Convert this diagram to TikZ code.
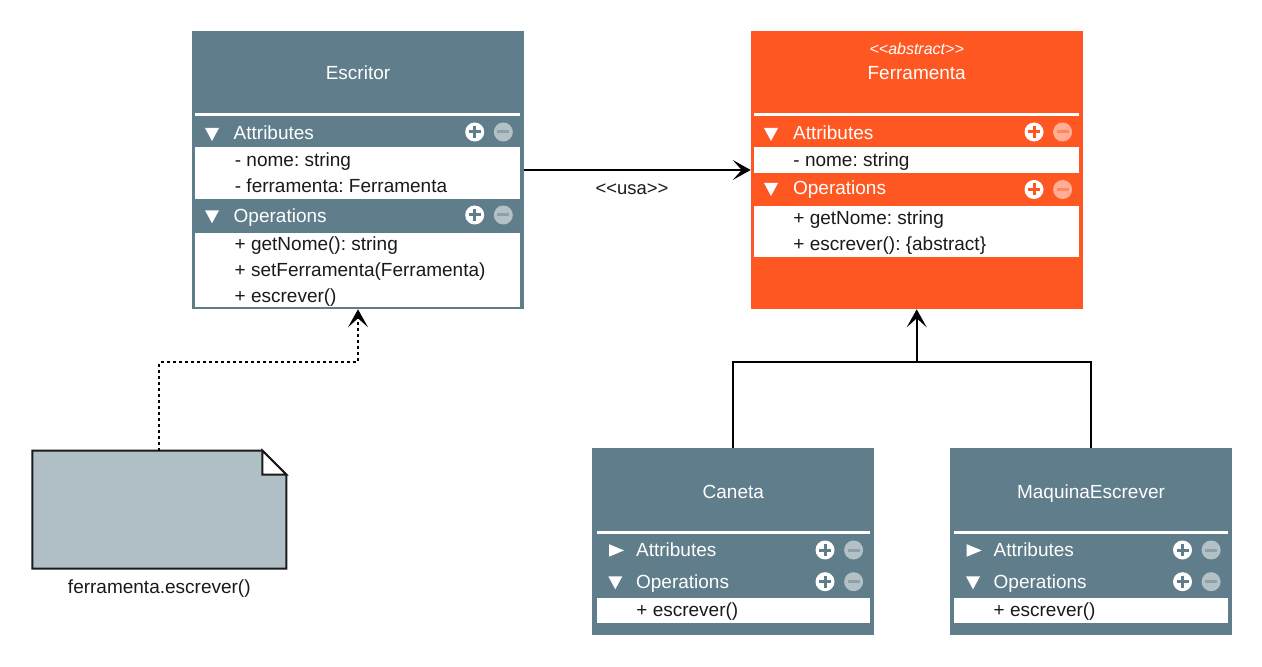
\documentclass[tikz,border=0pt]{standalone}
\usepackage{fontspec}
\setmainfont{Liberation Sans}[Ligatures=TeXOff]
\usetikzlibrary{arrows.meta}
\definecolor{slate}{HTML}{607D8B}
\definecolor{deep}{HTML}{FF5722}
\definecolor{notefill}{HTML}{B0BEC5}
\definecolor{ink}{HTML}{1A1A1A}
\frenchspacing
% plus / minus icons: x, y, base colour
\newcommand{\pmicons}[3]{%
  \fill[white] (#1,#2) circle[radius=4.75pt];
  \draw[#3, line width=1.5pt] (#1-6,#2) -- (#1+6,#2) (#1,#2-6) -- (#1,#2+6);
  \fill[white!52!#3] (#1+28.6,#2) circle[radius=4.75pt];
  \draw[#3!72!white, line width=1.5pt] (#1+22.6,#2) -- (#1+34.6,#2);
}
\newcommand{\tridown}[2]{\fill[white] (#1-7,#2-12) -- (#1+7,#2-12) -- (#1,#2+1) -- cycle;}
\newcommand{\triright}[2]{\fill[white] (#1-7.5,#2-12.5) -- (#1-7.5,#2) -- (#1+7.5,#2-6.25) -- cycle;}
\begin{document}
\begin{tikzpicture}[x=0.5pt,y=-0.5pt,
  bigbox/.style={draw=#1, fill=#1, line width=1pt, inner sep=0pt, minimum width=165pt, minimum height=138.3pt},
  smallbox/.style={draw=#1, fill=#1, line width=1pt, inner sep=0pt, minimum width=140pt, minimum height=92.5pt},
  title/.style={anchor=base, inner sep=0pt, text=white, font=\fontsize{9.5}{11}\selectfont},
  hdr/.style={anchor=base west, inner sep=0pt, text=white, font=\fontsize{9.5}{11}\selectfont},
  itm/.style={anchor=base west, inner sep=0pt, text=ink, font=\fontsize{9.5}{11}\selectfont},
  lbl/.style={anchor=base, inner sep=0pt, text=ink, font=\fontsize{9.5}{11}\selectfont},
  sep/.style={white, line width=1.5pt},
  plain/.style={draw=black, line width=1pt},
  conn/.style={plain, -{Stealth[length=9pt,width=10pt,inset=4.5pt]}},
  dotconn/.style={conn, dash pattern=on 1.5pt off 1.5pt}
]
\fill[white] (0,0) rectangle (1262,667);
\useasboundingbox (0,0) rectangle (1262,667);

% ---------- Escritor ----------
\node[bigbox=slate] (esc) at (358,170) {};
\node[title] (esc-t) at (358,79.3) {Escritor};
\draw[sep] (195,114.3) -- (520,114.3);
\tridown{212}{140}
\node[hdr] (esc-ah) at (233.3,140) {Attributes};
\pmicons{474.7}{132}{slate}
\fill[white] (195,147.5) rectangle (520,199.3);
\node[itm] (esc-a1) at (234.5,166.5) {- nome: string};
\node[itm] (esc-a2) at (234.5,192.5) {- ferramenta: Ferramenta};
\tridown{212}{222.3}
\node[hdr] (esc-oh) at (233.3,222.3) {Operations};
\pmicons{474.7}{215}{slate}
\fill[white] (195,232.7) rectangle (520,306.7);
\node[itm] (esc-o1) at (234.3,250.7) {+ getNome(): string};
\node[itm] (esc-o2) at (234.3,276.7) {+ setFerramenta(Ferramenta)};
\node[itm] (esc-o3) at (234.3,302.5) {+ escrever()};

% ---------- Ferramenta ----------
\node[bigbox=deep] (fer) at (916.7,170) {};
\node[title, font=\fontsize{8}{10}\selectfont\itshape] (fer-s) at (916.7,55) {<<abstract>>};
\node[title] (fer-t) at (916.7,79.3) {Ferramenta};
\draw[sep] (754,114.3) -- (1079,114.3);
\tridown{771}{140}
\node[hdr] (fer-ah) at (792.7,140) {Attributes};
\pmicons{1034}{132}{deep}
\fill[white] (754,147.3) rectangle (1079,173.3);
\node[itm] (fer-a1) at (793,166.5) {- nome: string};
\tridown{771}{195}
\node[hdr] (fer-oh) at (792.7,195) {Operations};
\pmicons{1034}{189.5}{deep}
\fill[white] (754,206) rectangle (1079,256.7);
\node[itm] (fer-o1) at (793,225) {+ getNome: string};
\node[itm] (fer-o2) at (793,250.7) {+ escrever(): \{abstract\}};

% ---------- Caneta ----------
\node[smallbox=slate] (can) at (733.3,541.8) {};
\node[title] (can-t) at (733.3,498.3) {Caneta};
\draw[sep] (597,532.3) -- (870,532.3);
\triright{616.5}{556.7}
\node[hdr] (can-ah) at (635.7,556.7) {Attributes};
\pmicons{825}{550}{slate}
\tridown{615.3}{588.3}
\node[hdr] (can-oh) at (635.7,588.3) {Operations};
\pmicons{825}{581.7}{slate}
\fill[white] (597,598) rectangle (870,623.3);
\node[itm] (can-o1) at (636,616.7) {+ escrever()};

% ---------- MaquinaEscrever ----------
\node[smallbox=slate] (maq) at (1091,541.8) {};
\node[title] (maq-t) at (1091,498.3) {MaquinaEscrever};
\draw[sep] (954,532.3) -- (1228,532.3);
\triright{974.2}{556.7}
\node[hdr] (maq-ah) at (993.3,556.7) {Attributes};
\pmicons{1182.5}{550}{slate}
\tridown{973}{588.3}
\node[hdr] (maq-oh) at (993.3,588.3) {Operations};
\pmicons{1182.5}{581.7}{slate}
\fill[white] (954,598) rectangle (1228,623.3);
\node[itm] (maq-o1) at (993.3,616.7) {+ escrever()};

% ---------- Note ----------
\node[inner sep=0pt, minimum width=126.65pt, minimum height=58.65pt] (note) at (159.3,509.6) {};
\draw[fill=notefill, draw=ink, line width=1pt]
  (note.north west) -- ([xshift=-12pt]note.north east) -- ([yshift=-12pt]note.north east)
  -- (note.south east) -- (note.south west) -- cycle;
\draw[fill=white, draw=ink, line width=1pt]
  ([xshift=-12pt]note.north east) -- ([xshift=-12pt,yshift=-12pt]note.north east)
  -- ([yshift=-12pt]note.north east) -- cycle;
\node[lbl] (note-l) at (159.3,593.3) {ferramenta.escrever()};

% ---------- Connectors ----------
\draw[conn] (esc.east) -- (fer.west);
\node[lbl, font=\fontsize{9.2}{11}\selectfont] (usa) at (632,195) {<<usa>>};

\coordinate (ib) at (916.7,362);
\draw[plain] (can.north) |- (ib);
\draw[plain] (maq.north) |- (ib);
\draw[conn] (ib) -- (fer.south);

\coordinate (db) at (159.3,362);
\draw[dotconn] (note.north) -- (db) -| (esc.south);
\end{tikzpicture}
\end{document}
